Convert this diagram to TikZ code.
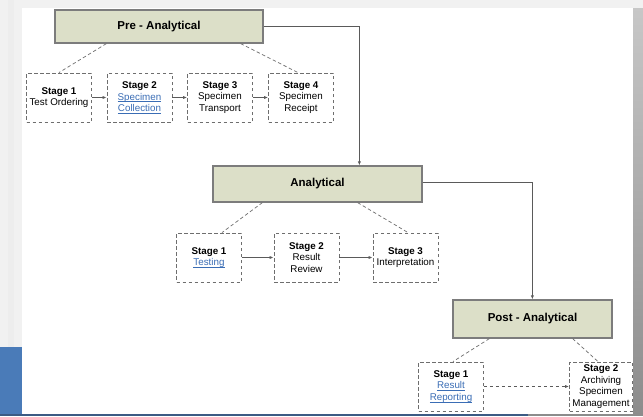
\documentclass[tikz,border=0pt]{standalone}
\usepackage{fontspec}
\setmainfont{Liberation Sans}
\usetikzlibrary{arrows.meta}
\definecolor{hdrfill}{HTML}{DCDFC8}
\definecolor{hdrline}{HTML}{7C7C7C}
\definecolor{boxline}{HTML}{6E6E6E}
\definecolor{wireline}{HTML}{5A5A5A}
\definecolor{linkblue}{HTML}{3A6DB5}
\definecolor{sidegray}{HTML}{F1F1F1}
\definecolor{sideblue}{HTML}{4A7BB8}
\definecolor{barblue}{HTML}{3C5B84}
% hyperlink-style text: blue, underlined just below the baseline
\newcommand{\lnk}[1]{\textcolor{linkblue}{\setbox0\hbox{#1}\rlap{\rule[-1.6pt]{\wd0}{0.5pt}}\box0}}
\tikzset{
  hdr/.style={draw=hdrline, fill=hdrfill, line width=1.2pt, inner sep=0pt,
    font=\fontsize{11.5}{13}\selectfont\bfseries},
  stagebox/.style={draw=boxline, line width=0.9pt, dash pattern=on 3.5pt off 2.5pt,
    fill=white, minimum width=65pt, minimum height=49pt, inner sep=0pt, align=center,
    font=\fontsize{9.8}{11.6}\selectfont},
  tie/.style={draw=boxline, line width=0.7pt, dash pattern=on 3.5pt off 2.5pt},
  flow/.style={draw=wireline, line width=0.8pt, -{Latex[length=4pt,width=3.2pt]}},
  dflow/.style={flow, dash pattern=on 3.5pt off 2.5pt}
}
\begin{document}
\begin{tikzpicture}[x=1pt,y=-1pt]
\useasboundingbox (0,0) rectangle (643,416);
% window backdrop
\fill[sidegray] (0,0) rectangle (643,416);
\fill[white!93!black] (8,0) rectangle (14,347);
\fill[sideblue] (0,347) rectangle (22,414);
\fill[white] (22,8) rectangle (633,414);
\shade[top color=black!22, bottom color=black!45] (633,8) rectangle (643,414);
\fill[barblue] (0,414) rectangle (528,416);
\fill[black!45] (528,414) rectangle (643,416);

% phase headers
\node[hdr, minimum width=208pt, minimum height=33pt] (pre) at (159,26.5) {Pre - Analytical};
\node[hdr, minimum width=209pt, minimum height=36pt] (an) at (317.5,184) {Analytical};
\node[hdr, minimum width=159pt, minimum height=38pt] (post) at (532.5,319) {Post - Analytical};

% pre-analytical stages
\node[stagebox] (a1) at (59,97.5) {\textbf{Stage 1}\\Test Ordering};
\node[stagebox] (a2) at (139.5,97.5) {\textbf{Stage 2}\\\lnk{Specimen}\\\lnk{Collection}};
\node[stagebox] (a3) at (220,97.5) {\textbf{Stage 3}\\Specimen\\Transport};
\node[stagebox] (a4) at (301,97.5) {\textbf{Stage 4}\\Specimen\\Receipt};

% analytical stages
\node[stagebox] (b1) at (209,257.5) {\textbf{Stage 1}\\\lnk{Testing}};
\node[stagebox] (b2) at (306.5,257.5) {\textbf{Stage 2}\\Result\\Review};
\node[stagebox] (b3) at (405.5,257.5) {\textbf{Stage 3}\\Interpretation};

% post-analytical stages
\node[stagebox] (c1) at (451,386.5) {\textbf{Stage 1}\\\lnk{Result}\\\lnk{Reporting}};
\node[stagebox, minimum width=63pt] (c2) at (601,386.5) {\textbf{Stage 2}\\Archiving\\Specimen\\Management};

% dashed ties from headers to first and last stages
\draw[tie] ([xshift=52pt]pre.south west) -- (a1.north);
\draw[tie] ([xshift=-23pt]pre.south east) -- ([xshift=-3pt]a4.north);
\draw[tie] ([xshift=50pt]an.south west) -- ([xshift=13pt]b1.north);
\draw[tie] ([xshift=-65pt]an.south east) -- ([xshift=2.5pt]b3.north);
\draw[tie] ([xshift=37pt]post.south west) -- ([xshift=2pt]c1.north);
\draw[tie] ([xshift=-40pt]post.south east) -- ([xshift=-3pt]c2.north);

% stage sequence arrows
\draw[flow] (a1.east) -- (a2.west);
\draw[flow] (a2.east) -- (a3.west);
\draw[flow] (a3.east) -- (a4.west);
\draw[flow] (b1.east) -- (b2.west);
\draw[flow] (b2.east) -- (b3.west);
\draw[dflow] (c1.east) -- (c2.west);

% phase-to-phase connectors
\draw[flow] (pre.east) -| ([xshift=147pt]an.north west);
\draw[flow] ([yshift=2pt]an.east) -| ([xshift=80pt]post.north west);
\end{tikzpicture}
\end{document}
